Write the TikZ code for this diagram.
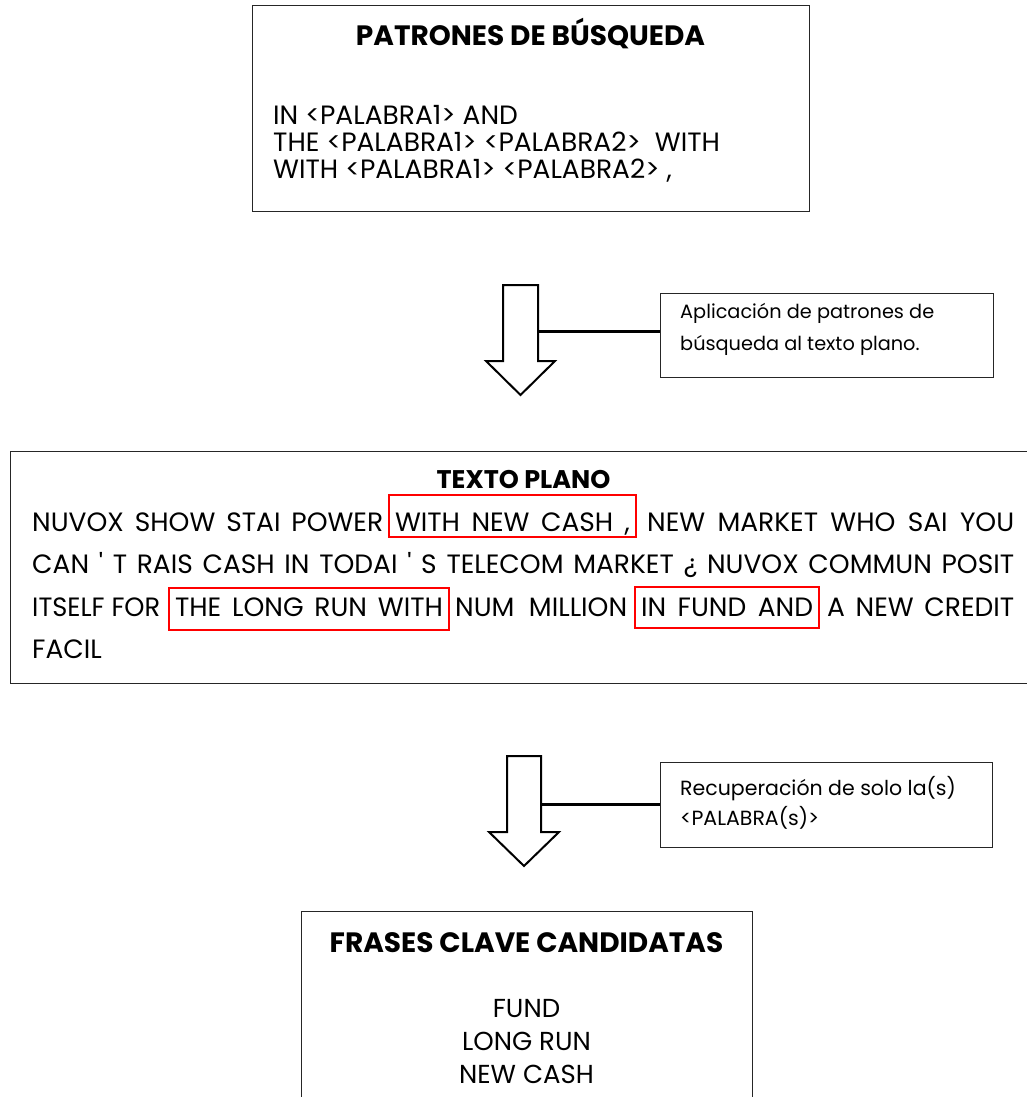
\documentclass[tikz,border=0pt]{standalone}
\usepackage{fontspec}
\setmainfont{Poppins}
\usepackage{graphicx}
\usetikzlibrary{positioning, calc}
\tikzstyle{panel} = [draw=black!85, line width=1pt, outer sep=0pt, inner sep=0pt, anchor=north west]
\tikzstyle{heading} = [anchor=base, inner sep=0pt, font=\bfseries\fontsize{28}{30}\selectfont]
\tikzstyle{words} = [anchor=base west, inner sep=0pt]
\tikzstyle{note} = [anchor=base west, inner sep=0pt, align=left, font=\fontsize{19.3}{32}\selectfont]
\tikzstyle{hit} = [draw=red, line width=2pt, anchor=base west, inner xsep=6pt, inner ysep=0pt, outer sep=0pt]
\tikzstyle{blockarrow} = [draw=black, line width=2pt, fill=white, line join=miter]
\tikzstyle{leader} = [draw=black, line width=3pt]
\newsavebox{\segbox}
\newcommand{\seg}[2]{\sbox{\segbox}{#2}%
    \ifdim\wd\segbox>#1pt\resizebox{#1pt}{\height}{\usebox{\segbox}}\else\makebox[#1pt][s]{#2}\fi}

\begin{document}
\begin{tikzpicture}[x=1pt, y=-1pt, font=\fontsize{26.5}{30}\selectfont]
            \useasboundingbox (0,0) rectangle (1026,1097);

            % The boxes (multi-line nodes sit on their last baseline)
            \node[panel, minimum width=557pt, minimum height=205pt] (patrones) at (252,6) {};
            \node[heading] (patrones_title) at ($(patrones.north)+(0,40)$)
                {PATRONES DE BÚSQUEDA};
            \node[words, align=left, font=\fontsize{26.5}{27}\selectfont] (patrones_list) at ($(patrones.north west)+(21,172)$)
                {IN <PALABRA1> AND\\
                    THE <PALABRA1> <PALABRA2>\ \ WITH\\
                    WITH <PALABRA1> <PALABRA2> ,};

            \node[panel, minimum width=1027pt, minimum height=232pt] (texto) at (10,451) {};
            \node[heading, font=\bfseries\fontsize{25.5}{30}\selectfont] (texto_title) at ($(texto.north west)+(513.5,37)$)
                {TEXTO PLANO};
            \node[words] (line1a) at ($(texto.north west)+(22,80)$) {\seg{351}{NUVOX SHOW STAI POWER}};
            \node[hit, text height=36pt, text depth=6pt] (hit_cash) at ($(texto.north west)+(379,80)$)
                {\seg{235}{WITH NEW CASH ,}};
            \node[words] (line1c) at ($(texto.north west)+(637,80)$) {\seg{367}{NEW MARKET WHO SAI YOU}};
            \node[words] (line2) at ($(texto.north west)+(22,122)$)
                {\seg{982}{CAN \textquotesingle{} T RAIS CASH IN TODAI \textquotesingle{} S TELECOM MARKET ¿ NUVOX COMMUN POSIT}};
            \node[words] (line3a) at ($(texto.north west)+(22,165)$) {\seg{128}{ITSELF FOR}};
            \node[hit, text height=28pt, text depth=14pt] (hit_run) at ($(texto.north west)+(159,165)$)
                {\seg{268}{THE LONG RUN WITH}};
            \node[words] (line3c) at ($(texto.north west)+(445,165)$) {\seg{172}{NUM MILLION}};
            \node[hit, text height=29pt, text depth=12pt] (hit_fund) at ($(texto.north west)+(625,165)$)
                {\seg{172}{IN FUND AND}};
            \node[words] (line3e) at ($(texto.north west)+(817,165)$) {\seg{187}{A NEW CREDIT}};
            \node[words] (line4) at ($(texto.north west)+(22,207)$) {FACIL};

            \node[panel, minimum width=451pt, minimum height=200pt] (frases) at (301,911) {};
            \node[heading] (frases_title) at ($(frases.north)+(0,41)$)
                {FRASES CLAVE CANDIDATAS};
            \node[anchor=base, inner sep=0pt, align=center, font=\fontsize{26}{33}\selectfont] (frases_list) at ($(frases.north)+(0,172)$)
                {FUND\\LONG RUN\\NEW CASH};

            % The notes
            \node[panel, minimum width=333pt, minimum height=84pt] (apply_note) at (660,293) {};
            \node[note] (apply_text) at ($(apply_note.north west)+(20,57)$)
                {Aplicación de patrones de\\
                    búsqueda al texto plano.};
            \node[panel, minimum width=332pt, minimum height=85pt] (keep_note) at (660,762) {};
            \node[note, font=\fontsize{20.5}{30}\selectfont] (keep_text) at ($(keep_note.north west)+(20,63)$)
                {Recuperación de solo la(s)\\
                    <PALABRA(s)>};

            % The flow arrows
            \coordinate (flowA) at (520.5,285);
            \coordinate (flowA_side) at (538,331);
            \draw[blockarrow] (flowA) ++(-17.5,0) -- ++(35,0) -- ++(0,76) -- ++(17,0) -- ++(-34.5,34) -- ++(-34.5,-34) -- ++(17,0) -- cycle;
            \draw[leader] (flowA_side) -- (flowA_side -| apply_note.west);

            \coordinate (flowB) at (524,756);
            \coordinate (flowB_side) at (541,804);
            \draw[blockarrow] (flowB) ++(-17,0) -- ++(34,0) -- ++(0,76) -- ++(18,0) -- ++(-35,34) -- ++(-35,-34) -- ++(18,0) -- cycle;
            \draw[leader] (flowB_side) -- (flowB_side -| keep_note.west);
        \end{tikzpicture}
\end{document}
